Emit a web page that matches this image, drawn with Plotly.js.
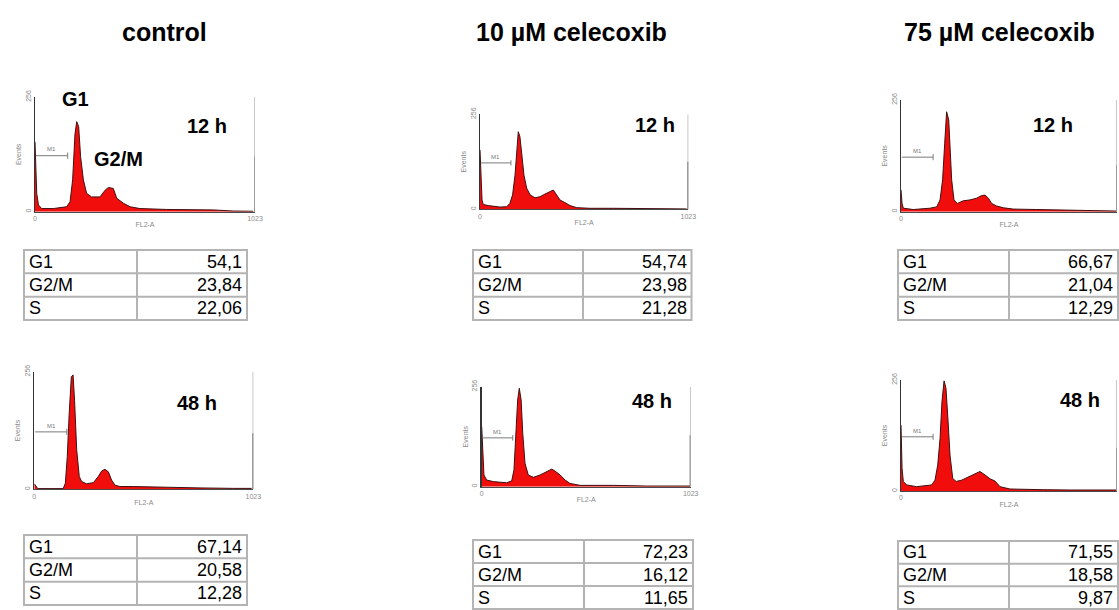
<!DOCTYPE html>
<html>
<head>
<meta charset="utf-8">
<script src="https://cdn.plot.ly/plotly-3.0.1.min.js"></script>
<style>html,body{margin:0;padding:0;background:#fff;}#chart{width:1119px;height:610px;}</style>
</head>
<body>
<div id="chart"></div>
<script>
// ---------- DATA ----------
const conditions = ['control', '10 µM celecoxib', '75 µM celecoxib'];
const times = ['12 h', '48 h'];
const phaseLabels = ['G1', 'G2/M', 'S'];

// FL2-A channel / events histograms
const ctl12Ch = [0, 8, 16, 31, 85, 147, 163, 175, 186, 194, 203, 212, 225, 240, 263, 302, 326, 341, 364, 380, 411, 442, 488, 612, 829, 922, 1015];
const ctl12Ev = [156, 41, 15, 7, 7, 11, 22, 71, 174, 201, 190, 123, 71, 41, 33, 33, 48, 54, 52, 30, 19, 11, 7, 5, 4, 1.5, 1];

const ten12Ch = [0, 5, 10, 16, 41, 98, 131, 147, 160, 172, 180, 188, 196, 205, 216, 229, 246, 270, 295, 319, 344, 360, 376, 393, 417, 442, 475, 540, 655, 851, 1015];
const ten12Ev = [160, 92, 25, 13, 10, 6, 7, 16, 39, 92, 164, 209, 196, 146, 92, 57, 39, 31, 34, 41, 49, 52, 39, 25, 18, 10, 4.5, 2.7, 2.7, 1, 1];

const sev12Ch = [0, 5, 11, 58, 137, 169, 185, 197, 207, 216, 226, 232, 240, 251, 267, 295, 327, 358, 382, 398, 414, 429, 453, 485, 532, 643, 722, 880, 1020];
const sev12Ev = [50, 19, 8, 5, 8, 11, 27, 73, 157, 229, 210, 149, 73, 27, 19, 25, 27, 31, 37, 38, 31, 19, 13, 9, 6, 5, 4, 2, 1.5];

const ctl48Ch = [0, 8, 16, 73, 135, 145, 154, 163, 173, 181, 188, 198, 210, 221, 244, 276, 299, 315, 330, 346, 361, 377, 400, 462, 540, 634, 774, 930, 1015];
const ctl48Ev = [12, 6, 1.5, 1.5, 1.5, 13, 71, 165, 245, 249, 194, 86, 28, 17, 12, 14.5, 28, 40, 43.5, 38, 20, 9, 6, 6, 5, 4, 3, 2, 2];

const ten48Ch = [0, 5, 11, 24, 57, 122, 147, 158, 168, 176, 184, 193, 201, 212, 228, 253, 286, 318, 343, 359, 384, 408, 432, 481, 563, 645, 808, 1020];
const ten48Ev = [154, 85, 30, 17, 13, 10, 15, 43, 136, 222, 252, 222, 136, 60, 30, 24, 30, 38, 45, 40, 30, 17, 8.5, 3.4, 4.3, 3.4, 1.7, 1.7];

const sev48Ch = [0, 5, 11, 27, 74, 122, 145, 161, 174, 185, 194, 204, 213, 223, 232, 245, 261, 287, 319, 351, 374, 398, 422, 445, 469, 516, 611, 674, 800, 1020];
const sev48Ev = [152, 52, 22, 14, 10, 12, 14, 25, 60, 121, 206, 254, 237, 160, 83, 29, 22, 25, 33, 41, 45, 37, 28, 23, 10, 4.6, 4.6, 3, 2.3, 2.3];

// off-scale events piled in the last channel (1023)
const overflowEv = [123, 128, 107, 122, 132, 100];

// M1 gate (channels) and its drawing level (events)
const m1Gate = [4, 152];
const m1Level = 125;

// cell-cycle percentages
const ctl12Pct = [54.1, 23.84, 22.06];
const ten12Pct = [54.74, 23.98, 21.28];
const sev12Pct = [66.67, 21.04, 12.29];
const ctl48Pct = [67.14, 20.58, 12.28];
const ten48Pct = [72.23, 16.12, 11.65];
const sev48Pct = [71.55, 18.58, 9.87];

// ---------- LAYOUT ----------
const W = 1119, H = 610;
const FX = p => p / W;
const FY = p => 1 - p / H;
const FONT = 'Liberation Sans, Arial, Helvetica, sans-serif';

const hists = [
  [ctl12Ch, ctl12Ev], [ten12Ch, ten12Ev], [sev12Ch, sev12Ev],
  [ctl48Ch, ctl48Ev], [ten48Ch, ten48Ev], [sev48Ch, sev48Ev]
];
const pcts = [ctl12Pct, ten12Pct, sev12Pct, ctl48Pct, ten48Pct, sev48Pct];

// plot boxes in pixels: [left, right, top, bottom]
const boxes = [
  [35, 255, 97, 211.7], [480, 688.3, 114.3, 209.3], [901, 1117, 100, 211.7],
  [34.3, 253.3, 371.7, 489.3], [481.7, 690.7, 386.7, 486.7], [901, 1117, 380, 491]
];
// tables in pixels: [left, divider, right, top, bottom]
const tables = [
  [24, 137, 247, 250, 320], [473, 583, 691.5, 250, 320], [898, 1009, 1118, 250, 320],
  [24, 137, 247, 535, 605], [473, 584, 693, 540, 609], [898, 1009, 1118, 541, 609]
];
// time-label centres
const timePos = [[207, 126], [655, 124.5], [1053, 125], [197, 402.5], [652, 400.5], [1080, 400]];
const titlePos = [[165, 32], [571, 32], [999, 32]];

const traces = [];
const layout = {
  width: W, height: H,
  margin: {l: 0, r: 0, t: 0, b: 0},
  paper_bgcolor: '#ffffff', plot_bgcolor: 'rgba(0,0,0,0)',
  showlegend: false,
  font: {family: FONT, color: '#000'},
  shapes: [], annotations: []
};

hists.forEach((h, i) => {
  const n = i + 1;
  const xa = n === 1 ? 'x' : 'x' + n;
  const ya = n === 1 ? 'y' : 'y' + n;
  const b = boxes[i];
  traces.push({
    type: 'scatter', mode: 'lines', x: h[0], y: h[1], xaxis: xa, yaxis: ya,
    fill: 'tozeroy', fillcolor: '#f20d0d',
    line: {color: '#401010', width: 1}, hoverinfo: 'skip'
  });
  traces.push({
    type: 'scatter', mode: 'lines', x: [1023, 1023], y: [0, overflowEv[i]], xaxis: xa, yaxis: ya,
    line: {color: '#555555', width: 2}, hoverinfo: 'skip', cliponaxis: false
  });
  layout['xaxis' + (n === 1 ? '' : n)] = {
    domain: [FX(b[0]), FX(b[1])], anchor: ya, range: [0, 1023],
    showgrid: false, zeroline: false, showline: true, linecolor: '#4a4a4a', linewidth: 1,
    tickvals: [0, 1023], ticktext: ['0', '1023'], ticks: '',
    tickfont: {size: 7, color: '#8a8a8a', family: FONT},
    title: {text: 'FL2-A', font: {size: 7, color: '#8a8a8a', family: FONT}, standoff: 1},
    automargin: false, fixedrange: true
  };
  layout['yaxis' + (n === 1 ? '' : n)] = {
    domain: [FY(b[3]), FY(b[2])], anchor: xa, range: [0, 256],
    showgrid: false, zeroline: false, showline: true, linecolor: '#333333', linewidth: 1.5,
    tickvals: [0, 256], ticktext: ['0', '256'], ticks: '', tickangle: -90,
    tickfont: {size: 7, color: '#8a8a8a', family: FONT},
    title: {text: 'Events', font: {size: 7, color: '#8a8a8a', family: FONT}, standoff: 2},
    automargin: false, fixedrange: true
  };
  // right frame line at channel 1023
  layout.shapes.push({type: 'line', xref: xa, yref: ya, x0: 1023, x1: 1023, y0: 0, y1: 256,
    line: {color: '#b5b5b5', width: 1.5}});
  // M1 gate marker
  layout.shapes.push({type: 'line', xref: xa, yref: ya, x0: m1Gate[0], x1: m1Gate[1], y0: m1Level, y1: m1Level,
    line: {color: '#7a7a7a', width: 1}});
  layout.shapes.push({type: 'line', xref: xa, yref: ya, x0: m1Gate[1], x1: m1Gate[1], y0: m1Level - 7, y1: m1Level + 7,
    line: {color: '#7a7a7a', width: 1}});
  layout.annotations.push({xref: xa, yref: ya, x: (m1Gate[0] + m1Gate[1]) / 2, y: m1Level + 3,
    yanchor: 'bottom', text: 'M1', showarrow: false, font: {size: 6, color: '#777', family: FONT}});

  // time label
  const tp = timePos[i];
  layout.annotations.push({xref: 'paper', yref: 'paper', x: FX(tp[0]), y: FY(tp[1]),
    xanchor: 'center', yanchor: 'middle', text: '<b>' + times[Math.floor(i / 3)] + '</b>',
    showarrow: false, font: {size: 20, color: '#000', family: FONT}});

  // table
  const t = tables[i];
  const rh = (t[4] - t[3]) / 3;
  const lc = {color: '#b4b4b4', width: 2};
  layout.shapes.push({type: 'rect', xref: 'paper', yref: 'paper', x0: FX(t[0]), x1: FX(t[2]), y0: FY(t[4]), y1: FY(t[3]), line: lc});
  layout.shapes.push({type: 'line', xref: 'paper', yref: 'paper', x0: FX(t[1]), x1: FX(t[1]), y0: FY(t[4]), y1: FY(t[3]), line: lc});
  for (let r = 1; r < 3; r++) {
    layout.shapes.push({type: 'line', xref: 'paper', yref: 'paper', x0: FX(t[0]), x1: FX(t[2]),
      y0: FY(t[3] + r * rh), y1: FY(t[3] + r * rh), line: lc});
  }
  phaseLabels.forEach((lab, r) => {
    const cy = t[3] + (r + 0.5) * rh;
    layout.annotations.push({xref: 'paper', yref: 'paper', x: FX(t[0] + 3), y: FY(cy),
      xanchor: 'left', yanchor: 'middle', text: lab, showarrow: false,
      font: {size: 18, color: '#000', family: FONT}});
    layout.annotations.push({xref: 'paper', yref: 'paper', x: FX(t[2] - 3), y: FY(cy),
      xanchor: 'right', yanchor: 'middle', text: String(pcts[i][r]).replace('.', ','), showarrow: false,
      font: {size: 18, color: '#000', family: FONT}});
  });
});

// column titles
conditions.forEach((c, k) => {
  layout.annotations.push({xref: 'paper', yref: 'paper', x: FX(titlePos[k][0]), y: FY(titlePos[k][1]),
    xanchor: 'center', yanchor: 'middle', text: '<b>' + c + '</b>', showarrow: false,
    font: {size: 25, color: '#000', family: FONT}});
});
// peak labels on the first histogram
layout.annotations.push({xref: 'paper', yref: 'paper', x: FX(75.5), y: FY(98.5), xanchor: 'center', yanchor: 'middle',
  text: '<b>G1</b>', showarrow: false, font: {size: 20, color: '#000', family: FONT}});
layout.annotations.push({xref: 'paper', yref: 'paper', x: FX(118), y: FY(158.5), xanchor: 'center', yanchor: 'middle',
  text: '<b>G2/M</b>', showarrow: false, font: {size: 20, color: '#000', family: FONT}});

Plotly.newPlot('chart', traces, layout, {staticPlot: true, displayModeBar: false});
</script>
</body>
</html>
